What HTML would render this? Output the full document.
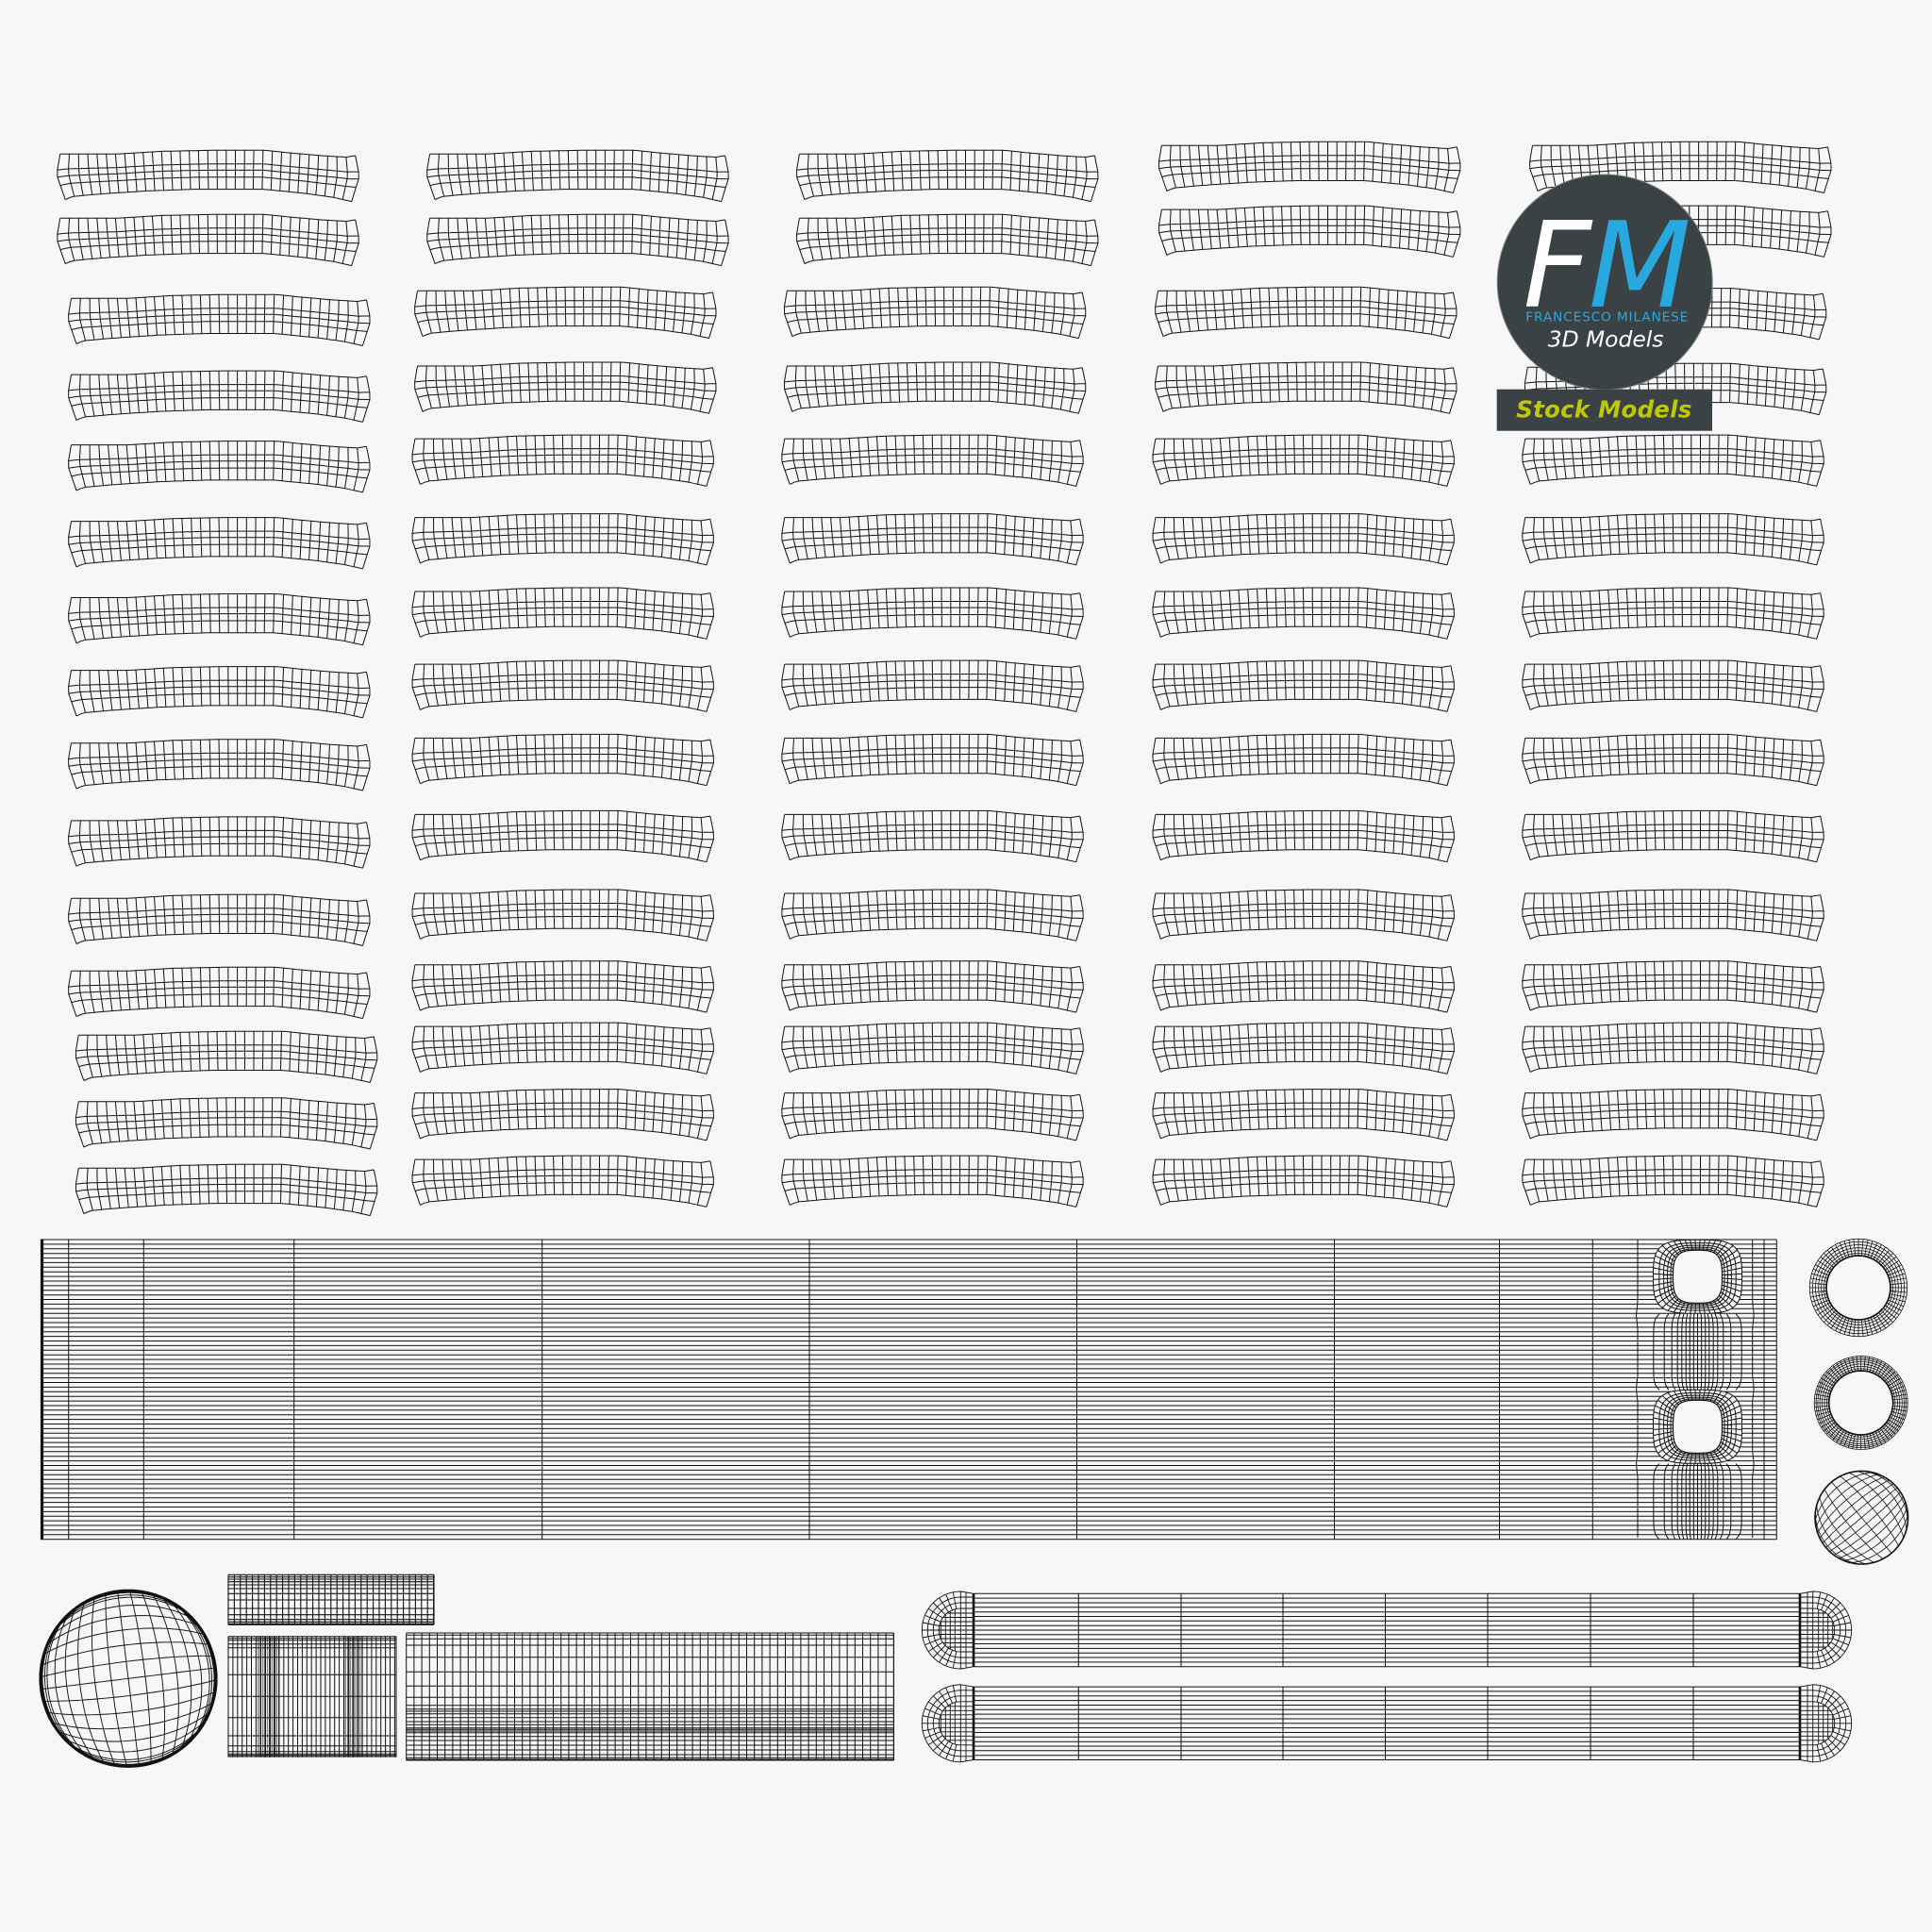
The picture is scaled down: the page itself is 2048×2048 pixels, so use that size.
<!DOCTYPE html>
<html><head><meta charset="utf-8"><title>UV mesh</title>
<style>html,body{margin:0;padding:0;background:#f7f7f7}svg{display:block}</style></head>
<body>
<svg id="m" xmlns="http://www.w3.org/2000/svg" width="2048" height="2048" viewBox="0 0 2048 2048">
<rect width="2048" height="2048" fill="#f7f7f7"/>
<g id="mesh" fill="none" stroke="#111" stroke-linejoin="round"></g>
<circle cx="1701.2" cy="299" r="114" fill="#3a4245" stroke="#7a8184" stroke-width="1"/>
<text x="1614.5" y="325" font-family="'DejaVu Sans',sans-serif" font-style="italic" font-size="126" fill="#ffffff">F</text>
<text x="1684" y="325" font-family="'DejaVu Sans',sans-serif" font-style="italic" font-size="126" fill="#29a7df">M</text>
<text x="1617.3" y="340.7" font-family="'DejaVu Sans',sans-serif" font-size="13.7" fill="#29a7df" textLength="172" lengthAdjust="spacing">FRANCESCO MILANESE</text>
<text x="1640.7" y="367.7" font-family="'DejaVu Sans',sans-serif" font-style="italic" font-size="23.4" fill="#ffffff" textLength="122.7">3D Models</text>
<rect x="1586.7" y="412.7" width="228.3" height="44" fill="#3a4245"/>
<text x="1607.3" y="442.7" font-family="'DejaVu Sans',sans-serif" font-style="italic" font-weight="bold" font-size="24.5" fill="#bfc800" textLength="186">Stock Models</text>
</svg>
<script>
(function(){
var out={};
function f(n){return Math.round(n*10)/10}
function add(pts,sw){sw=sw||1;var s='M'+pts.map(function(p){return f(p[0])+' '+f(p[1])}).join('L');out[sw]=(out[sw]||'')+s}
function ln(x0,y0,x1,y1,sw){add([[x0,y0],[x1,y1]],sw)}
function interp(t,x){if(x<=t[0][0])return t[0][1];for(var i=1;i<t.length;i++){if(x<=t[i][0]){var a=t[i-1],b=t[i];return a[1]+(b[1]-a[1])*(x-a[0])/(b[0]-a[0])}}return t[t.length-1][1]}
/* curved strip */
var TOP=[[0,0],[60,0],[110,-3],[163,-4],[217,-4],[243,-1.3],[277,1.7],[303,3.3],[313,1.7]];
var BOT=[[5.5,48.3],[13,45],[43,42.3],[93,39],[143,37.3],[215,37.3],[260,41.7],[290,46],[309,50.3]];
function sp(u,t){var xt=313*u,xb=5.5+303.5*u,w=2*u-1,b=Math.pow(Math.abs(w),9)*(w<0?-1:1);return [xt+(xb-xt)*t+b*5.5*Math.sin(Math.PI*Math.min(t/.51,1)*.5)*(t>.51?(1-t)/.49:1),interp(TOP,xt)+(interp(BOT,xb)-interp(TOP,xt))*t]}
var sd='',i,j;
function pl(a){return 'M'+a.map(function(p){return f(p[0])+' '+f(p[1])}).join('L')}
var TS=[0,.35,.51,.69,1];
TS.forEach(function(t){var a=[];for(i=0;i<=64;i++)a.push(sp(i/64,t));sd+=pl(a)});
for(i=0;i<=32;i++){var a=[];TS.forEach(function(t){a.push(sp(i/32,t))});sd+=pl(a)}
var uses='';
var S=1.3061;
function strips(xs,ys){ys.forEach(function(y,n){uses+='<use href="#s" x="'+f((xs[n]+1.8)*S)+'" y="'+f(y*S+4)+'"/>'})}
function rep(a,n){var r=[];for(var q=0;q<n;q++)r.push(a);return r}
var yB=[353,417,477,536,596,658,722,780,830,884,938];
strips(rep(47,2).concat(rep(56,10),rep(62,3)),[122,174,239,301,358,420,482,541,600,663,726,785,837,891,945]);
strips(rep(347,2).concat(rep(337,2),rep(335,11)),[122,174,233,294].concat(yB));
strips(rep(647,2).concat(rep(637,2),rep(635,11)),[122,174,233,294].concat(yB));
strips(rep(941,2).concat(rep(938,2),rep(936,11)),[115,167,233,294].concat(yB));
strips(rep(1242,2).concat(rep(1238,2),rep(1236,11)),[115,167,234,295].concat(yB));
/* main panel */
var X0=43,X1=1883.3,Y0=1314,Y1=1631.7,HX=1799.5,HY=[1353.3,1512.3];
var OA=47,OB=39,ON=3.5,IA=26,IB=28,IN=3.2;
var nH=65;
for(i=0;i<=nH;i++){var y=Y0+(Y1-Y0)*i/nH,segs=[[X0,X1]];
 HY.forEach(function(hy){var d=Math.abs(y-hy);if(d<OB&&i>0&&i<nH){var w=OA*Math.pow(1-Math.pow(d/OB,ON),1/ON);var ns=[];segs.forEach(function(s){if(s[0]<HX-w)ns.push([s[0],HX-w]);if(s[1]>HX+w)ns.push([HX+w,s[1]])});segs=ns}});
 segs.forEach(function(s){ln(s[0],y,s[1],y,1)})}
add([[44.5,Y0],[44.5,Y1]],3.2);
[72.7,152.3,311.7,574.7,858,1141.5,1414.5,1589.5,1688.3,1870,1883.3].forEach(function(x){ln(x,Y0,x,Y1,1)});
/* wavy verticals */
[1736,1857.7].forEach(function(x,m){var a=[];for(var y=Y0;y<=Y1;y+=4){var d=Math.min(Math.abs(y-1394),Math.abs(y-1472),Math.abs(y-1552));a.push([x+(m?-1:1)*(d<14?-1.5*(1-d/14):0),y])}add(a,1)});
/* bands */
var DX=[0,12.5,25,37,50,64,82,106,140].map(function(v){return v/3});
function band(y0,y1){var mid=(y0+y1)/2,h=(y1-y0)/2;DX.forEach(function(d){[1,-1].forEach(function(sg){if(!d&&sg<0)return;var a=[];for(var n=0;n<=16;n++){var y=y0+(y1-y0)*n/16,e=Math.pow(Math.abs(y-mid)/h,8);a.push([HX+sg*d*(1-.13*e),y])}add(a,1)})})}
band(1392.7,1473.3);band(1551.5,Y1);
function sup(th,a,b,n){var c=Math.abs(Math.cos(th))/a,s=Math.abs(Math.sin(th))/b;return Math.pow(Math.pow(c,n)+Math.pow(s,n),-1/n)}
HY.forEach(function(hy){
 var N=48,RF=[0,.12,.28,.47,.7,1];
 RF.forEach(function(fr){var a=[];for(var q=0;q<=N*2;q++){var th=q/(N*2)*2*Math.PI,ri=sup(th,IA,IB,IN),ro=sup(th,OA,OB,ON),r=ri+(ro-ri)*fr;a.push([HX+r*Math.cos(th),hy+r*Math.sin(th)])}add(a,fr===0?1.2:1)});
 for(var q=0;q<N;q++){var th=(q+.5)/N*2*Math.PI,ri=sup(th,IA,IB,IN),ro=sup(th,OA,OB,ON);ln(HX+ri*Math.cos(th),hy+ri*Math.sin(th),HX+ro*Math.cos(th),hy+ro*Math.sin(th),1)}
});
/* rings */
function ring(cx,cy,ro,ri,rf,n,sw){rf.forEach(function(t){var r=ri+(ro-ri)*t,a=[];for(var q=0;q<=96;q++){a.push([cx+r*Math.cos(q/96*6.2832),cy+r*Math.sin(q/96*6.2832)])}add(a,t===0?1.7:sw)});
 for(var q=0;q<n;q++){var th=q/n*6.2832;ln(cx+ri*Math.cos(th),cy+ri*Math.sin(th),cx+ro*Math.cos(th),cy+ro*Math.sin(th),sw)}}
ring(1970,1365,51.7,34,[0,.14,.3,.47,.65,.83,1],64,.8);
ring(1972.7,1487,49.5,34,[0,.14,.3,.46,.62,.76,.88,1],68,.8);
/* spherified grids */
function grid(cx,cy,r,U,V,gam,sw,osw){var c=Math.cos(gam),s=Math.sin(gam);
 function P(u,v){var x=u*Math.sqrt(1-v*v/2),y=v*Math.sqrt(1-u*u/2);return [cx+r*(x*c-y*s),cy+r*(x*s+y*c)]}
 U.forEach(function(u){var a=[];for(var n=0;n<=40;n++){a.push(P(u,Math.sin((n/40-.5)*Math.PI)))}add(a,sw)});
 V.forEach(function(v){var a=[];for(var n=0;n<=40;n++){a.push(P(Math.sin((n/40-.5)*Math.PI),v))}add(a,sw)});
 var o=[];for(var q=0;q<=120;q++)o.push([cx+r*Math.cos(q/120*6.2832),cy+r*Math.sin(q/120*6.2832)]);add(o,osw)}
function sins(st){var r=[];for(var a=-90;a<=90.01;a+=st)r.push(Math.sin(a*Math.PI/180));return r}
var bigA=sins(11.25);[72,78,81,84,87].forEach(function(d){var v=Math.sin(d*Math.PI/180);bigA.push(v,-v)});
grid(136,1779.3,93,bigA,bigA,-7*Math.PI/180,.95,3.2);
var hatch=[];for(i=-6;i<=6;i++)hatch.push(i/6);
grid(1973.3,1608.7,49.3,sins(18),hatch,-40*Math.PI/180,.8,1.6);
/* rect meshes */
function rect(x0,y0,x1,y1,xs,ys,sw){xs.forEach(function(x){ln(x,y0,x,y1,sw)});ys.forEach(function(y){ln(x0,y,x1,y,sw)})}
function range(a,b,s){var r=[];for(var v=a;v<=b+.01;v+=s)r.push(v);return r}
rect(242,1669.3,460,1722.3,range(242,460,6.4).concat([460]),[28,35,42,50,60,72,88,108,135,155,170,178,184,187].map(function(z){return 1660+z/3}),1.1);
rect(242,1734.7,420,1862.7,range(242,420,4.9).concat([420]),[224,230,236,248,260,290,346,415,482,540,572,590,598,602,606].map(function(z){return 1660+z/3}),1);
range(273.3,296.7,1.7).concat(range(365,385,1.7)).forEach(function(x){ln(x,1734.7,x,1862.7,.5)});
rect(430.7,1731,947.5,1866,range(430.7,947.5,8.2).concat([947.5]),[33,40,52,72,110,157,202,238,263,275,282,290,302,315,325,335,340,345,350,362,375,390,405,420,430,435,438].map(function(z){return 1720+z/3}),1);
/* pills */
function pill(cy){
 var h=38.7,XL=1032,XR=1908;
 for(var n=0;n<=16;n++){var y=cy-h+2*h*n/16;ln(XL,y,XR,y,1)}
 [1143.3,1252,1360,1468.5,1577,1686,1795].forEach(function(x){ln(x,cy-h,x,cy+h,1)});
 add([[XL,cy-h],[XL,cy+h]],2.6);add([[XR,cy-h],[XR,cy+h]],2.6);
 [[1018.3,-1,XL],[1921.7,1,XR]].forEach(function(c){
  var cx=c[0],d=c[1],e=c[2];
  [41,35,29,23].forEach(function(r,idx){var a=[];
   if(idx){a.push([e,cy-r])}
   for(var q=0;q<=36;q++){var th=-Math.PI/2+q/36*Math.PI;a.push([cx+d*r*Math.cos(th),cy+r*Math.sin(th)])}
   if(idx){a.push([e,cy+r])}else{a.unshift([e,cy-38.7]);a.push([e,cy+38.7])}
   add(a,.9)});
  for(var q=0;q<=16;q++){var th=-Math.PI/2+q/16*Math.PI;ln(cx+d*23*Math.cos(th),cy+23*Math.sin(th),cx+d*41*Math.cos(th),cy+41*Math.sin(th),.9)}
  [-5.7,0].forEach(function(o){var m=Math.sqrt(41*41-o*o);ln(cx+d*o,cy-m,cx+d*o,cy+m,.9)});
  [6,11,16,21].forEach(function(o){var m=Math.sqrt(23*23-o*o);ln(cx+d*o,cy-m,cx+d*o,cy+m,.9)});
  [-18,-13.5,-9,-4.5,0,4.5,9,13.5,18].forEach(function(o){var m=Math.sqrt(23*23-o*o);ln(cx+d*m,cy+o,e,cy+o,.9)});
 });
}
pill(1728);pill(1826.8);
var html='<defs><path id="s" d="'+sd+'" stroke-width="1"/></defs>'+uses;
for(var w in out)html+='<path d="'+out[w]+'" stroke-width="'+w+'"/>';
document.getElementById('mesh').innerHTML=html;
})();
</script>
</body></html>
